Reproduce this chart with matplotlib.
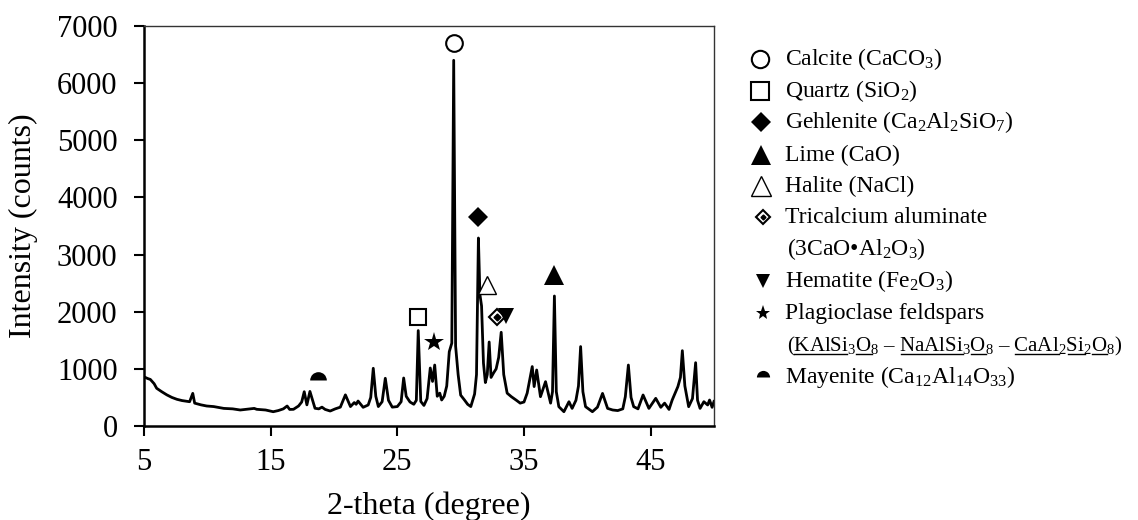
import matplotlib
matplotlib.use('Agg')
import matplotlib.pyplot as plt

plt.rcParams['font.family'] = ['Liberation Serif', 'DejaVu Serif']
plt.rcParams['mathtext.fontset'] = 'custom'
plt.rcParams['mathtext.rm'] = 'Liberation Serif'
plt.rcParams['mathtext.it'] = 'Liberation Serif:italic'
plt.rcParams['mathtext.bf'] = 'Liberation Serif:bold'

# Difratograma (2-theta, contagens)
two_theta = [5.0, 5.3, 5.5, 5.8, 6.0, 6.4, 6.8, 7.2, 7.6, 8.0, 8.6, 8.85, 9.0, 9.5, 9.95,
             10.5, 11.3, 12.0, 12.6, 13.2, 13.7, 13.9, 14.6, 15.2, 15.6, 16.0, 16.3, 16.5,
             16.8, 17.2, 17.45, 17.65, 17.86, 18.1, 18.5, 18.8, 19.05, 19.3, 19.7, 20.1,
             20.5, 20.9, 21.3, 21.6, 21.75, 21.9, 22.3, 22.7, 22.9, 23.1, 23.3, 23.5, 23.8,
             24.05, 24.3, 24.6, 25.0, 25.3, 25.5, 25.7, 26.0, 26.3, 26.5, 26.65, 26.85,
             27.1, 27.35, 27.6, 27.78, 27.95, 28.15, 28.35, 28.5, 28.7, 28.9, 29.1, 29.3,
             29.45, 29.6, 29.8, 30.0, 30.3, 30.55, 30.8, 31.1, 31.25, 31.4, 31.52, 31.65,
             31.8, 31.95, 32.1, 32.25, 32.4, 32.6, 32.8, 33.0, 33.2, 33.4, 33.67, 34.0,
             34.4, 34.7, 35.0, 35.25, 35.65, 35.8, 36.0, 36.3, 36.7, 37.1, 37.25, 37.4,
             37.55, 37.75, 38.15, 38.55, 38.8, 39.1, 39.3, 39.47, 39.65, 39.86, 40.4, 40.8,
             41.2, 41.6, 42.0, 42.4, 42.8, 43.0, 43.24, 43.45, 43.66, 44.0, 44.4, 44.86,
             45.4, 45.8, 46.1, 46.45, 46.7, 47.15, 47.35, 47.5, 47.7, 48.0, 48.3, 48.55,
             48.7, 48.9, 49.2, 49.5, 49.65, 49.85, 50.0]
intensity = [860, 830, 815, 740, 660, 600, 545, 500, 467, 445, 425, 571, 400, 370, 350,
             340, 308, 300, 280, 295, 308, 292, 280, 250, 270, 300, 350, 290,
             292, 350, 420, 600, 370, 605, 310, 300, 330, 290, 262, 300,
             330, 545, 340, 410, 380, 437, 327, 368, 500, 1010, 520, 340, 425,
             835, 450, 330, 340, 425, 840, 520, 420, 380, 450, 1670, 430,
             360, 480, 1015, 780, 1067, 520, 575, 455, 520, 700, 1300, 1450,
             6400, 1400, 900, 540, 455, 380, 340, 560, 900, 3290, 2300, 2100,
             1100, 760, 900, 1470, 850, 930, 1000, 1200, 1640, 900, 575, 513,
             450, 400, 420, 575, 1040, 690, 980, 513, 776, 400, 600, 2275,
             600, 338, 250, 425, 308, 450, 700, 1390, 600, 338, 250, 330,
             570, 308, 280, 270, 300, 513, 1067, 500, 338, 300, 543, 308,
             484, 327, 400, 290, 455, 690, 850, 1318, 700, 338, 480, 1108,
             450, 308, 425, 368, 455, 327, 430]

# Picos identificados (posicao dos simbolos)
fases = ['Calcite', 'Quartz', 'Gehlenite', 'Lime', 'Halite', 'Tricalcium aluminate',
         'Hematite', 'Plagioclase feldspars', 'Mayenite']
pico_x = [29.5, 26.64, 31.37, 37.36, 32.09, 32.83, 33.6, 27.87, 18.73]
pico_y = [6700, 1910, 3660, 2640, 2470, 1910, 1925, 1475, 800]

# Legenda (texto)
leg_textos = [r'Calcite (CaCO$_3$)', r'Quartz (SiO$_2$)', r'Gehlenite (Ca$_2$Al$_2$SiO$_7$)',
              r'Lime (CaO)', r'Halite (NaCl)', r'Tricalcium aluminate',
              r'Hematite (Fe$_2$O$_3$)', r'Plagioclase feldspars',
              r'Mayenite (Ca$_{12}$Al$_{14}$O$_{33}$)']
linha_tri = r'(3CaO•Al$_2$O$_3$)'
# (trecho, sublinhado)
linha_plag = [('(', False), ('KAlSi', True), ('$_3$', False), ('O', True), ('$_8$', False),
              (' – ', False), ('NaAlSi', True), ('$_3$', False), ('O', True), ('$_8$', False),
              (' – ', False), ('CaAl', True), ('$_2$', False), ('Si', True), ('$_2$', False),
              ('O', True), ('$_8$', False), (')', False)]

# estilos dos simbolos
estilo = {
    'Calcite': dict(marker='o', mfc='white', mec='black', mew=1.5),
    'Quartz': dict(marker='s', mfc='white', mec='black', mew=1.5),
    'Gehlenite': dict(marker='D', mfc='black', mec='black', mew=0),
    'Lime': dict(marker='^', mfc='black', mec='black', mew=0),
    'Halite': dict(marker='^', mfc='white', mec='black', mew=1.0),
    'Tricalcium aluminate': dict(marker='D', mfc='white', mec='black', mew=1.5),
    'Hematite': dict(marker='v', mfc='black', mec='black', mew=0),
    'Plagioclase feldspars': dict(marker='*', mfc='black', mec='black', mew=0),
    'Mayenite': dict(marker='o', fillstyle='top', mfc='black', mfcalt='none', mec='none', mew=0),
}
tam_graf = {'Calcite': 12, 'Quartz': 12, 'Gehlenite': 10, 'Lime': 14, 'Halite': 13,
            'Tricalcium aluminate': 8, 'Hematite': 12, 'Plagioclase feldspars': 15, 'Mayenite': 12}
tam_leg = {'Calcite': 12.5, 'Quartz': 12.5, 'Gehlenite': 10, 'Lime': 14, 'Halite': 14,
           'Tricalcium aluminate': 7.5, 'Hematite': 10, 'Plagioclase feldspars': 11, 'Mayenite': 9.5}

fig = plt.figure(figsize=(11.38, 5.2), dpi=100)

# eixo "pixel" para a legenda
lax = fig.add_axes([0, 0, 1, 1], zorder=0)
lax.set_xlim(0, 1138)
lax.set_ylim(520, 0)
lax.axis('off')

ax = fig.add_axes([144 / 1138, 94 / 520, 570 / 1138, 400 / 520], zorder=1)
ax.patch.set_alpha(0)
ax.plot(two_theta, intensity, color='black', lw=2.0, solid_joinstyle='round')

for f, x, y in zip(fases, pico_x, pico_y):
    ax.plot([x], [y], ls='none', ms=tam_graf[f], clip_on=False, **estilo[f])
    if f == 'Tricalcium aluminate':
        ax.plot([x], [y], ls='none', marker='D', ms=3.5, color='black')

ax.set_xlim(5, 50)
ax.set_ylim(0, 7000)
ax.set_xticks([5, 15, 25, 35, 45])
ax.set_yticks(range(0, 7001, 1000))
ax.tick_params(axis='both', direction='out', length=7, width=1.5, labelsize=22)
ax.tick_params(axis='y', pad=12)
ax.tick_params(axis='x', pad=9)
for s in ['left', 'bottom']:
    ax.spines[s].set_linewidth(1.8)
for s in ['top', 'right']:
    ax.spines[s].set_linewidth(1.0)
    ax.spines[s].set_color('#333333')
ax.set_xlabel('2-theta (degree)', fontsize=23, labelpad=10)
ax.set_ylabel('Intensity (counts)', fontsize=23, labelpad=14)

# legenda manual
fs = 17
linhas_y = [59, 91, 122, 155, 186, 217, 281, 313, 377]
mx = [760, 760, 761, 761, 761, 763, 763, 763, 763]
for f, t, yy, xm in zip(fases, leg_textos, linhas_y, mx):
    lax.plot([xm], [yy], ls='none', ms=tam_leg[f], **estilo[f])
    if f == 'Tricalcium aluminate':
        lax.plot([xm], [yy], ls='none', marker='D', ms=2.5, color='black')
    lax.text(785, yy + 6, t, fontsize=fs, va='baseline', ha='left')
lax.text(787, 249 + 6, linha_tri, fontsize=fs, va='baseline', ha='left')

# linha das formulas dos feldspatos, com sublinhado
fs_plag = 15
r = fig.canvas.get_renderer()
inv = lax.transData.inverted()
x_ini = 787
yb = 345 + 6
lax.text(x_ini, yb, ''.join(s for s, _ in linha_plag), fontsize=fs_plag, va='baseline', ha='left')
for i, (trecho, sub) in enumerate(linha_plag):
    if not sub:
        continue
    pre = ''.join(s for s, _ in linha_plag[:i + 1])
    tp = lax.text(x_ini, yb, pre, fontsize=fs_plag, va='baseline', ha='left')
    ts = lax.text(x_ini, yb, trecho, fontsize=fs_plag, va='baseline', ha='left')
    x1 = inv.transform((tp.get_window_extent(r).x1, 0))[0]
    w = ts.get_window_extent(r).width
    tp.remove()
    ts.remove()
    lax.plot([x1 - w, x1], [yb + 2.5, yb + 2.5], color='black', lw=1.0)

fig.savefig('out.png', dpi=100)
